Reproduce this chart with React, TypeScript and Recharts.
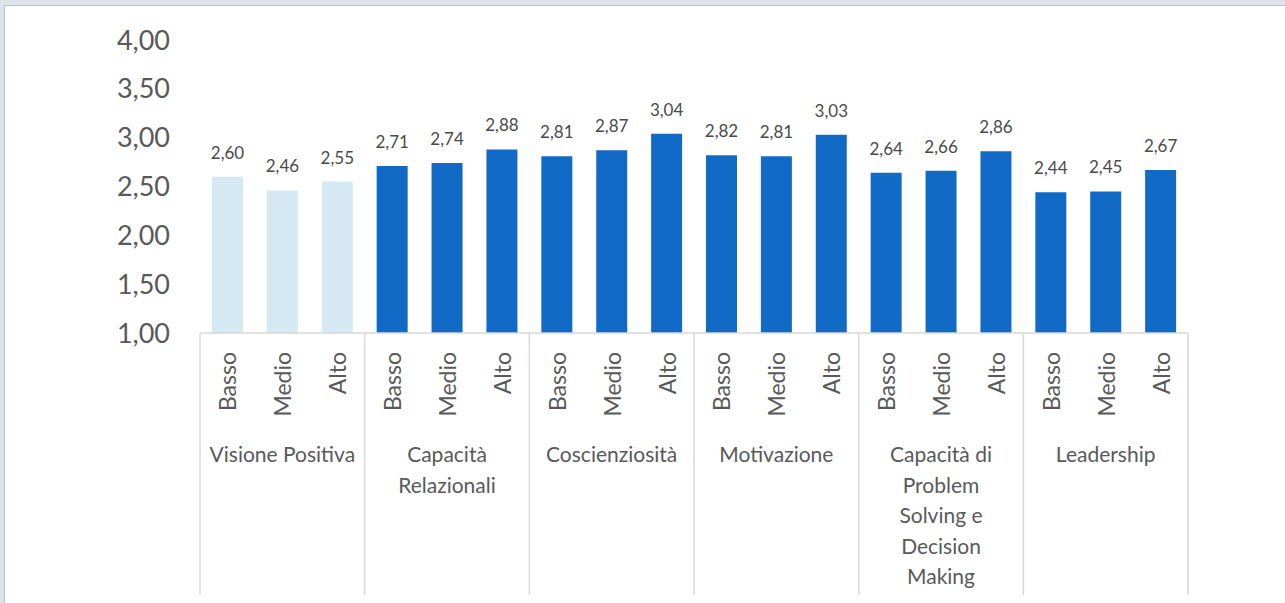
import { BarChart, Bar, XAxis, YAxis, Cell, LabelList } from 'recharts';

const levels = ['Basso', 'Medio', 'Alto'];

const groupLabels = [
  ['Visione Positiva'],
  ['Capacità', 'Relazionali'],
  ['Coscienziosità'],
  ['Motivazione'],
  ['Capacità di', 'Problem', 'Solving e', 'Decision', 'Making'],
  ['Leadership'],
];

const visionePositiva = [2.6, 2.46, 2.55];
const capacitaRelazionali = [2.71, 2.74, 2.88];
const coscienziosita = [2.81, 2.87, 3.04];
const motivazione = [2.82, 2.81, 3.03];
const problemSolving = [2.64, 2.66, 2.86];
const leadership = [2.44, 2.45, 2.67];

const yTicks = [1, 1.5, 2, 2.5, 3, 3.5, 4];

const groupValues = [visionePositiva, capacitaRelazionali, coscienziosita, motivazione, problemSolving, leadership];

const data = groupValues.flatMap((vals, gi) =>
  levels.map((level, li) => ({ key: `${gi}-${level}`, level, group: gi, value: vals[li] }))
);

const W = 1285;
const H = 603;
const margin = { top: 40, right: 97, left: 0, bottom: 0 };
const yAxisWidth = 200;
const bandWidth = (W - margin.left - margin.right - yAxisWidth) / data.length;

const textColor = '#595959';
const font = 'Lato, "Open Sans", sans-serif';
const fmt = (v: number) => v.toFixed(2).replace('.', ',');

function CategoryTick(props: any) {
  const { x, y, index } = props;
  const d = data[index];
  if (!d) return null;
  const axisY = y - 8;
  const top = axisY + 19;
  const li = index % 3;
  const lines = groupLabels[d.group];
  return (
    <g>
      {li === 0 && (
        <line x1={x - bandWidth / 2} x2={x - bandWidth / 2} y1={axisY} y2={595} stroke="#d9d9d9" strokeWidth={1.5} />
      )}
      {index === data.length - 1 && (
        <line x1={x + bandWidth / 2} x2={x + bandWidth / 2} y1={axisY} y2={595} stroke="#d9d9d9" strokeWidth={1.5} />
      )}
      <text
        x={x + 9}
        y={top}
        transform={`rotate(-90, ${x + 9}, ${top})`}
        textAnchor="end"
        fill={textColor}
        fontSize={23}
        fontFamily={font}
      >
        {d.level}
      </text>
      {li === 1 &&
        lines.map((line, i) => (
          <text
            key={i}
            x={x}
            y={axisY + 129 + i * 30.5}
            textAnchor="middle"
            fill={textColor}
            fontSize={21}
            fontFamily={font}
          >
            {line}
          </text>
        ))}
    </g>
  );
}

export default function App() {
  return (
    <div style={{ position: 'absolute', left: 0, top: 0, width: W, height: H, background: '#dfe4ec', overflow: 'hidden' }}>
      <div
        style={{
          position: 'absolute',
          left: 4,
          top: 5,
          width: W,
          height: H + 20,
          background: '#ffffff',
          borderLeft: '1.5px solid #b9c1cd',
          borderTop: '1.5px solid #b9c1cd',
        }}
      />
      <div style={{ position: 'absolute', left: 0, top: 0 }}>
        <BarChart width={W} height={H} data={data} margin={margin} barSize={31}>
          <YAxis
            width={yAxisWidth}
            domain={[1, 4]}
            ticks={yTicks}
            tickFormatter={fmt}
            axisLine={false}
            tickLine={false}
            tickMargin={24}
            tick={{ fill: textColor, fontSize: 27, fontFamily: font }}
          />
          <XAxis
            dataKey="key"
            interval={0}
            height={H - 333 - margin.bottom}
            tickLine={false}
            axisLine={{ stroke: '#d9d9d9', strokeWidth: 1.5 }}
            tick={<CategoryTick />}
          />
          <Bar dataKey="value" isAnimationActive={false}>
            {data.map((d) => (
              <Cell key={d.key} fill={d.group === 0 ? '#d5e9f5' : '#116bc6'} />
            ))}
            <LabelList
              dataKey="value"
              position="top"
              offset={18}
              formatter={(v: any) => fmt(Number(v))}
              fill="#4a4a4a"
              fontSize={17}
              fontFamily={font}
            />
          </Bar>
        </BarChart>
      </div>
    </div>
  );
}
